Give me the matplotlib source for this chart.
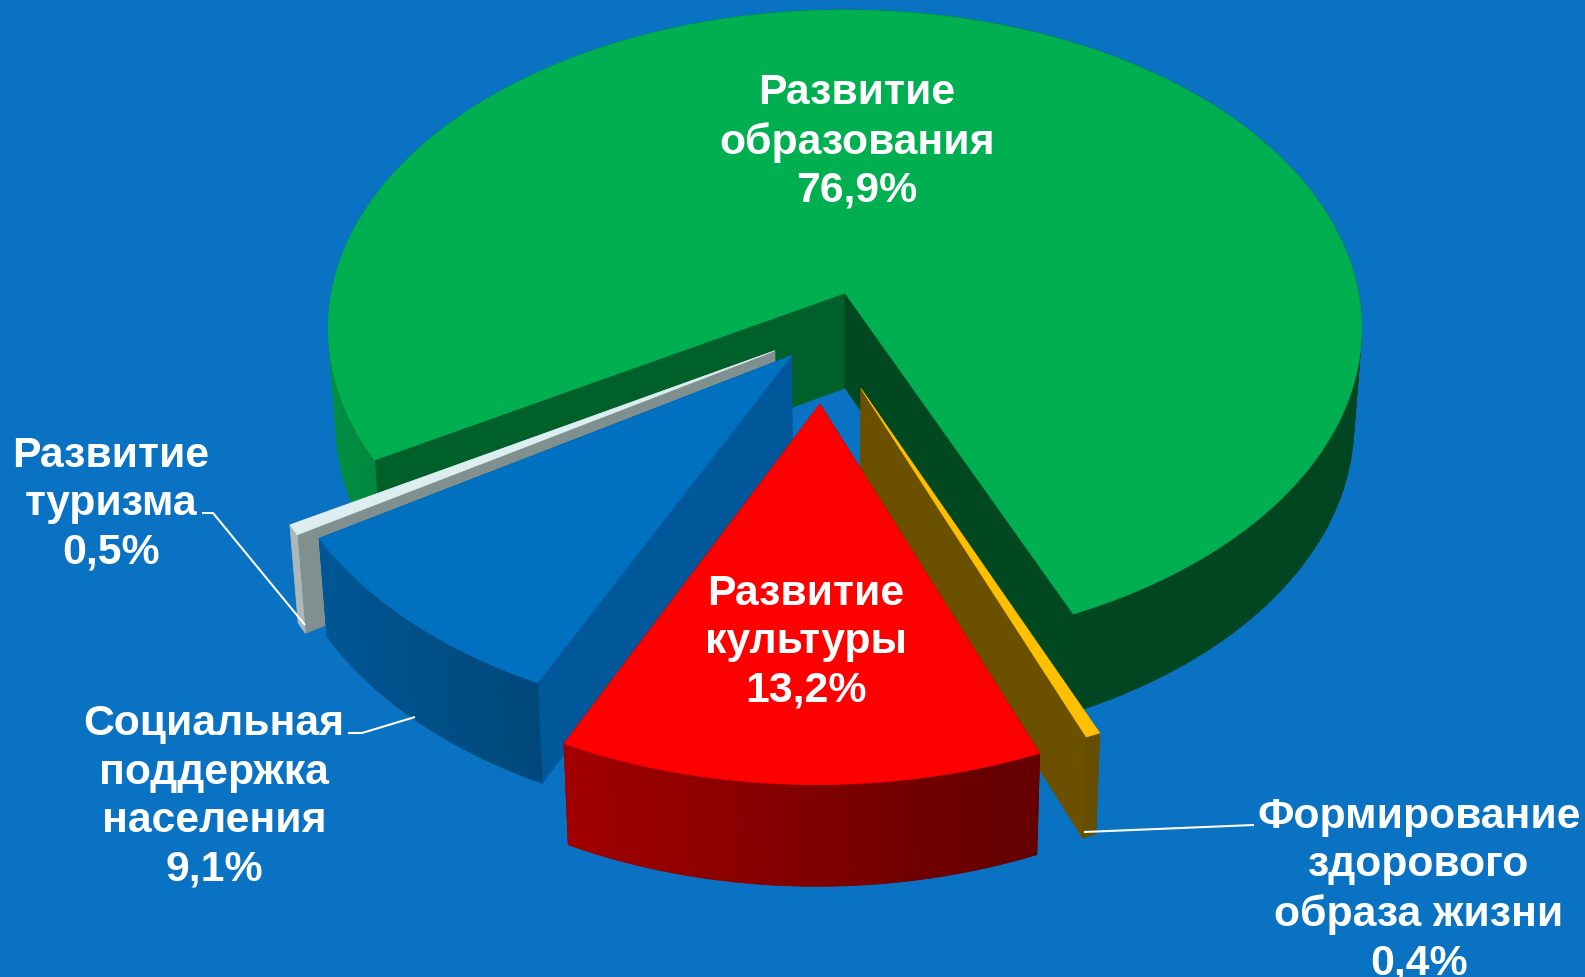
import matplotlib
matplotlib.use("Agg")
import matplotlib.pyplot as plt
import numpy as np
from matplotlib.patches import Polygon

# values as printed on the chart, clockwise from the first slice
labels = ["Развитие\nобразования\n76,9%",
          "Формирование\nздорового\nобраза жизни\n0,4%",
          "Развитие\nкультуры\n13,2%",
          "Социальная\nподдержка\nнаселения\n9,1%",
          "Развитие\nтуризма\n0,5%"]
values = [76.9, 0.4, 13.2, 9.1, 0.5]
# where each slice was pulled to, in units of the pie radius
offset_u = [0, 0.030, -0.047, -0.102, -0.134]
offset_v = [0, 0.294, 0.340, 0.195, 0.180]
radii = [1, 1, 0.992, 0.99, 1]

top_colors = ["#00B050", "#FFC000", "#FF0000", "#0070C0", "#DDEEF0"]
# colours of the two cut faces of each slice (start edge, end edge)
cut_colors = [("#00602A", "#004820"), ("#6B5000", "#6B5000"), ("#640000", "#640000"),
              ("#00589A", "#00589A"), ("#80908F", "#80908F")]
label_pos = [(857, 142), (1419, 890), (806, 642), (214, 797), (111, 504)]
leaders = [None,
           [(1084, 832), (1254, 825)],
           None,
           [(348, 733), (362, 733), (415, 717)],
           [(202, 513), (213, 513), (305, 625)]]

BG = "#0A72C2"
START = 239.9  # angle of first slice, clockwise from the back of the pie

# perspective of the pie plane, in pixels
X0, Y0, A, B, K = 845, 293, 513.5, 314.5, 0.111
DROP, KD, SHRINK = 95, 0.05, 0.985


def top_pt(u, v):
    w = 1 - K * v
    return X0 + A * u / w, Y0 + B * v / w


def bottom_pt(u, v):
    x, y = top_pt(u, v)
    return X0 + (x - X0) * SHRINK, y + DROP / (1 - KD * v)


def side_shade(t):
    return np.clip(0.5 - 0.32 * np.sin(t), 0.40, 1)


fig = plt.figure(figsize=(15.85, 9.77), dpi=100, facecolor=BG)
ax = fig.add_axes([0, 0, 1, 1])
ax.set_xlim(0, 1585)
ax.set_ylim(977, 0)
ax.axis("off")


def poly(pts, color, z):
    ax.add_patch(Polygon(pts, closed=True, facecolor=color, edgecolor=color, lw=0.5, zorder=z))


fracs = np.array(values) / np.sum(values)
starts = np.radians(START) + 2 * np.pi * np.concatenate(([0], np.cumsum(fracs)[:-1]))
ends = starts + 2 * np.pi * fracs

draw_order = [0, 4, 3, 1, 2]
for n, i in enumerate(draw_order):
    z = 2 + n
    ou, ov = offset_u[i], offset_v[i]
    t = np.linspace(starts[i], ends[i], max(3, int(np.degrees(ends[i] - starts[i]) / 1.5)))
    u = ou + radii[i] * np.sin(t)
    v = ov - radii[i] * np.cos(t)
    rgb = np.array(matplotlib.colors.to_rgb(top_colors[i]))

    # cut faces
    for k, j in enumerate([0, -1]):
        face = [top_pt(ou, ov), top_pt(u[j], v[j]), bottom_pt(u[j], v[j]), bottom_pt(ou, ov)]
        poly(face, cut_colors[i][k], z)

    # outer wall, one strip per step so that the shade changes
    for a in range(len(t) - 1):
        strip = [top_pt(u[a], v[a]), top_pt(u[a + 1], v[a + 1]),
                 bottom_pt(u[a + 1], v[a + 1]), bottom_pt(u[a], v[a])]
        poly(strip, rgb * side_shade((t[a] + t[a + 1]) / 2), z)

    # top of the slice
    outline = [top_pt(ou, ov)] + [top_pt(p, q) for p, q in zip(u, v)]
    poly(outline, top_colors[i], z)

for line in leaders:
    if line:
        xs, ys = zip(*line)
        ax.plot(xs, ys, color="white", lw=1.5, zorder=10, solid_capstyle="butt")

for text, (x, y) in zip(labels, label_pos):
    ax.text(x, y, text, color="white", fontsize=30.8, fontweight="bold", family="Liberation Sans",
            ha="center", va="center", multialignment="center", linespacing=1.27, zorder=11,
            clip_on=False)

fig.savefig("out.png", dpi=100, facecolor=BG)
